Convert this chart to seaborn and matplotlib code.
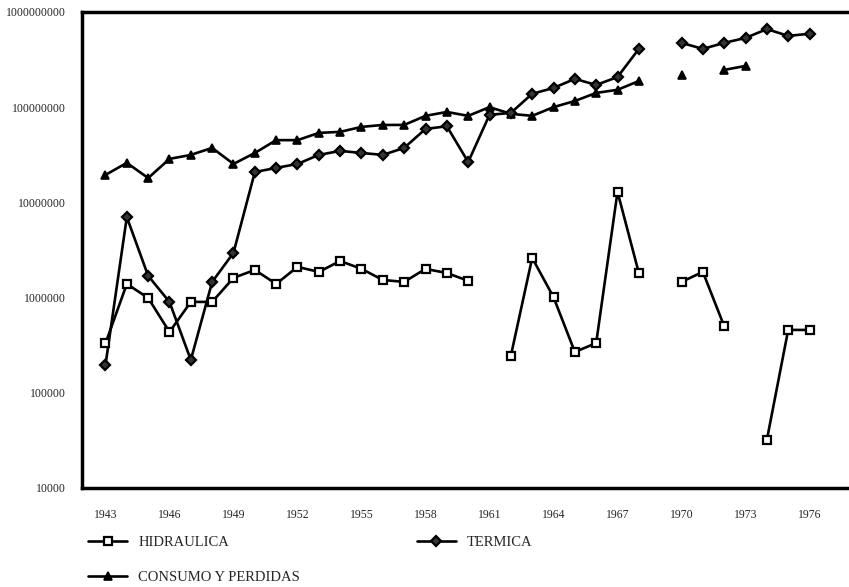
import numpy as np
import pandas as pd
import matplotlib
matplotlib.use("Agg")
import matplotlib.pyplot as plt
from matplotlib.lines import Line2D
from matplotlib.ticker import FixedLocator, MultipleLocator
import seaborn as sns

# Data (NaN = no value that year)
years = list(range(1943, 1977))
hidraulica = [3.3e5, 1.39e6, 9.9e5, 4.35e5, 9.0e5, 9.0e5, 1.61e6, 1.95e6, 1.39e6, 2.1e6,
              1.86e6, 2.42e6, 2.0e6, 1.53e6, 1.46e6, 2.0e6, 1.81e6, 1.5e6, np.nan, 2.44e5,
              2.61e6, 1.01e6, 2.68e5, 3.33e5, 1.29e7, 1.81e6, np.nan, 1.46e6, 1.86e6, 5.0e5,
              np.nan, 3.2e4, 4.57e5, 4.57e5]
termica = [1.96e5, 7.0e6, 1.69e6, 9.0e5, 2.21e5, 1.46e6, 2.95e6, 2.08e7, 2.3e7, 2.53e7,
           3.15e7, 3.47e7, 3.3e7, 3.15e7, 3.73e7, 5.9e7, 6.3e7, 2.65e7, 8.3e7, 8.7e7,
           1.38e8, 1.59e8, 1.98e8, 1.71e8, 2.07e8, 4.09e8, np.nan, 4.73e8, 4.09e8, 4.73e8,
           5.33e8, 6.6e8, 5.6e8, 5.9e8]
consumo = [1.94e7, 2.6e7, 1.8e7, 2.86e7, 3.15e7, 3.73e7, 2.53e7, 3.3e7, 4.5e7, 4.5e7,
           5.36e7, 5.5e7, 6.2e7, 6.5e7, 6.5e7, 8.1e7, 8.9e7, 8.1e7, 1.0e8, 8.5e7,
           8.1e7, 1.0e8, 1.16e8, 1.41e8, 1.52e8, 1.88e8, np.nan, 2.18e8, np.nan, 2.46e8,
           2.71e8, np.nan, np.nan, np.nan]

series = {"HIDRAULICA": hidraulica, "TERMICA": termica, "CONSUMO Y PERDIDAS": consumo}

# Long table with a segment id so gaps stay unconnected
rows = []
for name, vals in series.items():
    seg = 0
    prev_nan = True
    for yr, v in zip(years, vals):
        if np.isnan(v):
            prev_nan = True
            continue
        if prev_nan:
            seg += 1
        prev_nan = False
        rows.append({"year": yr, "value": v, "series": name, "seg": seg})
df = pd.DataFrame(rows)

styles = {
    "HIDRAULICA": dict(marker="s", markersize=5.8, markerfacecolor="white",
                       markeredgecolor="black", markeredgewidth=1.6),
    "TERMICA": dict(marker="D", markersize=5.6, markerfacecolor="#333333",
                    markeredgecolor="black", markeredgewidth=1.6),
    "CONSUMO Y PERDIDAS": dict(marker="^", markersize=6, markerfacecolor="black",
                               markeredgecolor="black", markeredgewidth=1.2),
}

sns.set_style("white")
plt.rcParams["font.family"] = ["Liberation Serif", "DejaVu Serif"]

fig = plt.figure(figsize=(8.49, 5.87), dpi=100)
ax = fig.add_axes([0.0966, 0.1687, 0.9034, 0.811])

for name in ["CONSUMO Y PERDIDAS", "TERMICA", "HIDRAULICA"]:
    sub = df[df["series"] == name]
    sns.lineplot(data=sub, x="year", y="value", units="seg", estimator=None,
                 color="black", linewidth=1.9, ax=ax, legend=False,
                 clip_on=False, **styles[name])

ax.set_yscale("log")
ax.set_ylim(1e4, 1e9)
ax.set_xlim(1941.9, 1977.85)
ax.set_xlabel("")
ax.set_ylabel("")

ax.yaxis.set_major_locator(FixedLocator([1e4, 1e5, 1e6, 1e7, 1e8, 1e9]))
ax.yaxis.set_minor_locator(FixedLocator([]))
ax.set_yticklabels(["10000", "100000", "1000000", "10000000", "100000000", "1000000000"])
ax.xaxis.set_major_locator(FixedLocator(list(range(1943, 1977, 3))))
ax.xaxis.set_minor_locator(MultipleLocator(1))
ax.set_xticklabels([str(y) for y in range(1943, 1977, 3)])

ax.tick_params(axis="y", which="major", direction="in", length=13, width=1.5,
               labelsize=8.5, pad=12)
ax.tick_params(axis="x", which="major", direction="in", length=8, width=1.5,
               labelsize=8.5, pad=15)
ax.tick_params(axis="x", which="minor", direction="in", length=5, width=1.5)

for s in ["left", "bottom", "top"]:
    ax.spines[s].set_linewidth(2.5)
    ax.spines[s].set_color("black")
ax.spines["right"].set_visible(False)
ax.grid(False)

handles = []
labels = []
for name in ["HIDRAULICA", "CONSUMO Y PERDIDAS", "TERMICA"]:
    handles.append(Line2D([], [], color="black", linewidth=1.9, **styles[name]))
    labels.append(name)

fig.legend(handles, labels, ncol=2, loc="upper left", bbox_to_anchor=(0.088, 0.11),
           frameon=False, fontsize=10.5, handlelength=2.7, handletextpad=0.75,
           labelspacing=1.5, columnspacing=8.0)

fig.savefig("out.png", dpi=100)
